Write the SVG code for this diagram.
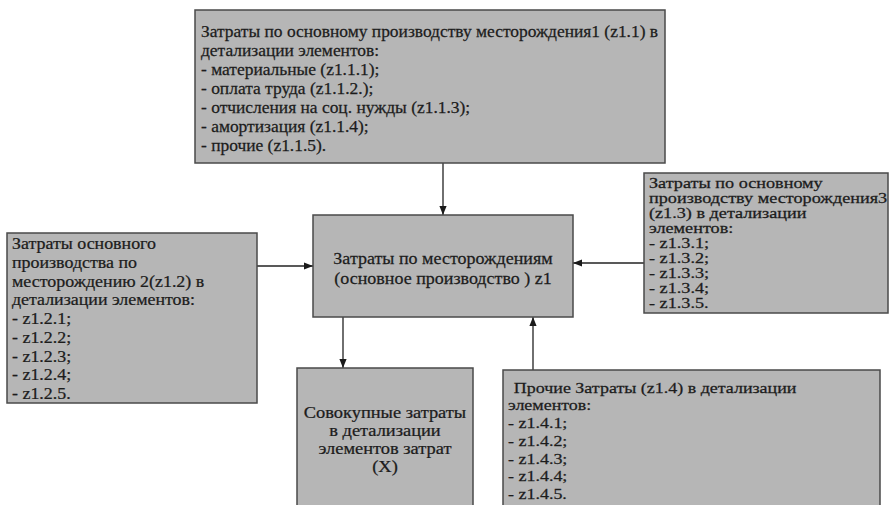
<svg xmlns="http://www.w3.org/2000/svg" width="891" height="505" viewBox="0 0 891 505" font-family="'Liberation Serif', 'Times New Roman', Tinos, 'DejaVu Serif', serif">
<defs>
<marker id="ah" viewBox="0 0 10 10" refX="10" refY="5" markerWidth="9" markerHeight="9" markerUnits="userSpaceOnUse" orient="auto">
<path d="M0,1 L10,5 L0,9 z" fill="#1a1a1a"/>
</marker>
</defs>
<style>
.box{fill:#b6b6b6;stroke:#4a4a4a;stroke-width:1.5}
text{fill:#1c1c1c;stroke:#1c1c1c;stroke-width:0.25}
.f17{font-size:17px}
.f16{font-size:16px}
.f155{font-size:15.5px}
.f14{font-size:14px}
.c{text-anchor:middle}
.con{stroke:#222;stroke-width:1.3;fill:none;marker-end:url(#ah)}
</style>
<rect width="891" height="505" fill="#ffffff"/>
<g id="connectors">
<line class="con" x1="443" y1="163" x2="443" y2="215"/>
<line class="con" x1="257" y1="266" x2="313" y2="266"/>
<line class="con" x1="644" y1="263" x2="573" y2="263"/>
<line class="con" x1="343" y1="317" x2="343" y2="368"/>
<line class="con" x1="533" y1="370" x2="533" y2="317"/>
</g>
<g id="n-top">
<rect class="box" x="195" y="10" width="470" height="153"/>
<g class="f16" transform="matrix(1.09 0 0 1 -18.09 0)">
<text x="201" y="37">Затраты по основному производству месторождения1 (z1.1) в</text>
<text x="201" y="56">детализации элементов:</text>
<text x="201" y="75">- материальные (z1.1.1);</text>
<text x="201" y="94">- оплата труда (z1.1.2.);</text>
<text x="201" y="113">- отчисления на соц. нужды (z1.1.3);</text>
<text x="201" y="132">- амортизация (z1.1.4);</text>
<text x="201" y="151">- прочие (z1.1.5).</text>
</g>
</g>
<g id="n-center">
<rect class="box" x="313" y="215" width="260" height="102"/>
<g class="f17 c" transform="matrix(1.06 0 0 1 -26.58 0)">
<text x="443" y="264">Затраты по месторождениям</text>
<text x="443" y="284">(основное производство ) z1</text>
</g>
</g>
<g id="n-left">
<rect class="box" x="7" y="233" width="250" height="170"/>
<g class="f16" transform="matrix(1.12 0 0 1 -1.44 0)">
<text x="12" y="249">Затраты основного</text>
<text x="12" y="268">производства по</text>
<text x="12" y="287">месторождению 2(z1.2) в</text>
<text x="12" y="305">детализации элементов:</text>
<text x="12" y="324">- z1.2.1;</text>
<text x="12" y="343">- z1.2.2;</text>
<text x="12" y="362">- z1.2.3;</text>
<text x="12" y="380">- z1.2.4;</text>
<text x="12" y="399">- z1.2.5.</text>
</g>
</g>
<g id="n-right">
<rect class="box" x="644" y="173" width="244" height="140"/>
<g class="f14" transform="matrix(1.3 0 0 1 -194.7 0)">
<text x="649" y="188">Затраты по основному</text>
<text x="649" y="203">производству месторождения3</text>
<text x="649" y="218">(z1.3) в детализации</text>
<text x="649" y="233">элементов:</text>
<text x="649" y="248">- z1.3.1;</text>
<text x="649" y="263">- z1.3.2;</text>
<text x="649" y="278">- z1.3.3;</text>
<text x="649" y="293">- z1.3.4;</text>
<text x="649" y="308">- z1.3.5.</text>
</g>
</g>
<g id="n-bottom-center">
<rect class="box" x="297" y="368" width="176" height="145"/>
<g class="f16 c" transform="matrix(1.15 0 0 1 -57.75 0)">
<text x="385" y="418">Совокупные затраты</text>
<text x="385" y="436">в детализации</text>
<text x="385" y="454">элементов затрат</text>
<text x="385" y="472">(X)</text>
</g>
</g>
<g id="n-bottom-right">
<rect class="box" x="503" y="370" width="377" height="145"/>
<g class="f155" transform="matrix(1.16 0 0 1 -81.28 0)">
<text x="513" y="393">Прочие Затраты  (z1.4) в детализации</text>
<text x="508" y="410">элементов:</text>
<text x="508" y="428">- z1.4.1;</text>
<text x="508" y="446">- z1.4.2;</text>
<text x="508" y="464">- z1.4.3;</text>
<text x="508" y="481">- z1.4.4;</text>
<text x="508" y="499">- z1.4.5.</text>
</g>
</g>
</svg>
